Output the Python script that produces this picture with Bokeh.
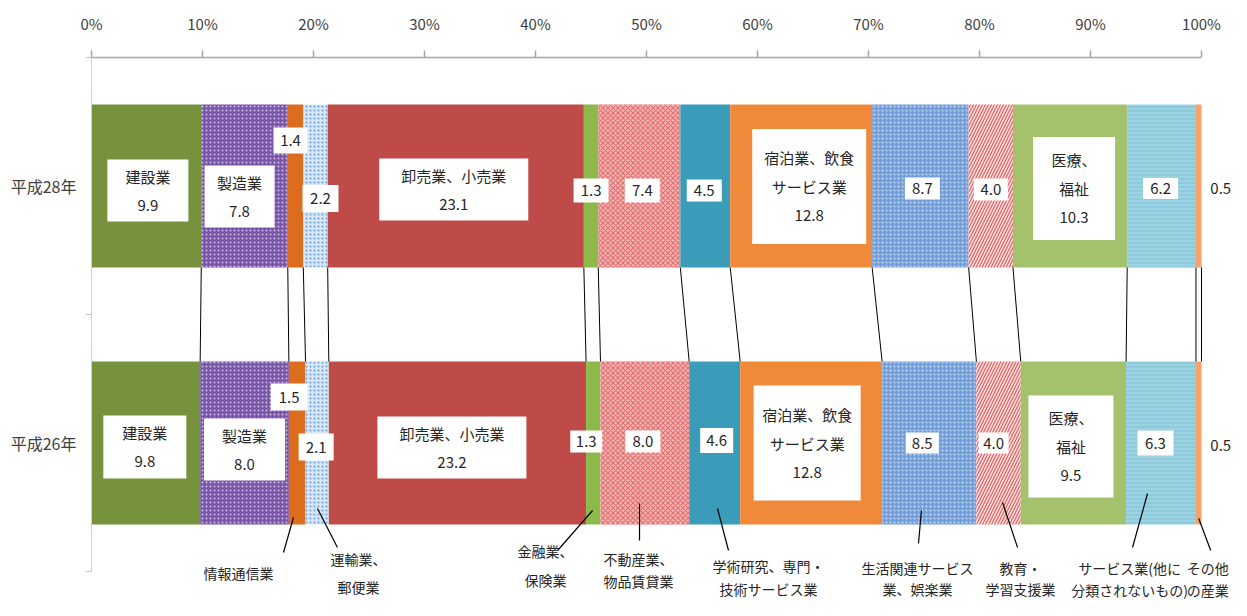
from bokeh.plotting import figure
from bokeh.models import (ColumnDataSource, Range1d, FixedTicker, PrintfTickFormatter,
                          CustomJSTickFormatter)
from bokeh.embed import file_html
from bokeh.resources import INLINE

# ---------------- data ----------------
industries = ["建設業", "製造業", "情報通信業", "運輸業、郵便業", "卸売業、小売業",
              "金融業、保険業", "不動産業、物品賃貸業", "学術研究、専門・技術サービス業",
              "宿泊業、飲食サービス業", "生活関連サービス業、娯楽業", "教育、学習支援業",
              "医療、福祉", "サービス業（他に分類されないもの）", "その他の産業"]
years = ["平成28年", "平成26年"]
h28 = [9.9, 7.8, 1.4, 2.2, 23.1, 1.3, 7.4, 4.5, 12.8, 8.7, 4.0, 10.3, 6.2, 0.5]
h26 = [9.8, 8.0, 1.5, 2.1, 23.2, 1.3, 8.0, 4.6, 12.8, 8.5, 4.0, 9.5, 6.3, 0.5]
inbox_names = ["建設業", "製造業", "", "", "卸売業、小売業", "", "", "",
               "宿泊業、飲食\nサービス業", "", "", "医療、\n福祉", "", ""]
below_names = ["", "", "情報通信業", "運輸業、\n郵便業", "", "金融業、\n保険業",
               "不動産業、\n物品賃貸業", "学術研究、専門・\n技術サービス業", "",
               "生活関連サービス\n業、娯楽業", "教育・\n学習支援業", "",
               "サービス業(他に\n分類されないもの)", "その他\nの産業"]
x_ticks = list(range(0, 101, 10))

# ---------------- styles ----------------
fills = ["#77923C", "#7A56A8", "#DC6D1E", "#D6E6F6", "#BE4B48", "#8DB84A", "#F3B4B3",
         "#3B9CBA", "#F08A3A", "#739FDA", "#FADCDC", "#A4C26C", "#9DD2E2", "#F7A26A"]
hatches = [" ", ".", " ", ".", " ", " ", "x", " ", " ", ".", "/", " ", "-", " "]
hatch_cols = ["white", "#CDBDE6", "white", "#6E9FD6", "white", "white", "#E27070",
              "white", "white", "#C9DAF3", "#E05A5A", "white", "#80C2D6", "white"]
hatch_scales = [6, 4, 6, 4, 6, 6, 5, 6, 6, 4, 6, 6, 4, 6]

PX_X = 11.1    # px per percent
PX_Y = 257.0   # px per y unit
bar_y = [1.5, 0.5]
bar_h = 0.634

# label box layout (dx px, dy px, w px, h px) relative to segment centre; None -> no box
boxes28 = [(1.5, 4.5, 81, 62), (-5, 10.5, 70, 62), (-5, -45.5, 34, 26), (5, 12.5, 36, 27),
           (-2, 3.5, 149, 62), (0, 4.5, 35, 24), (3, 4.5, 35, 24), (-1, 4.5, 35, 22),
           (8, 0.5, 114, 115), (2, 2.5, 35, 22), (0, 3.5, 34, 22), (4, 2.5, 82, 103),
           (-1, 2.5, 35, 21), None]
boxes26 = [(-1, 4, 83, 63), (0, 6.5, 81, 62), (-8, -46, 37, 27), (-1, 4, 35, 27),
           (-5.5, 4.5, 149, 62), (-7, -1.5, 32, 22), (-2, -1.5, 35, 22), (2, -2.5, 33, 25),
           (-4, 0, 107, 115), (-7, 0, 33, 21), (-5, 0, 30, 21), (-2.5, 3.5, 85, 102),
           (-5.5, 0, 36, 25), None]
outside_dx = 22  # px for the tiny last segment label
line_gap = 29    # px between lines inside boxes

# leaders for 平成26年: idx -> (start dx,dy), (end dx,dy), (text dx, first line dy, line gap)  [px]
leaders = {2: ((-3.7, 74.5), (-13.7, 109.5), (-58.7, 129.5, 0)),
           3: ((0.3, 65.5), (20.3, 104.5), (41.3, 115.5, 28)),
           5: ((-0.7, 67.5), (-35.7, 107.5), (-47.7, 107.5, 29)),
           6: ((-5.3, 60.5), (-5.3, 97.5), (-6.3, 115.5, 22)),
           7: ((2.8, 65.5), (13.8, 107.5), (53.8, 122.5, 23)),
           9: ((-7.8, 67.5), (-10.8, 100.5), (-11.8, 124.5, 21)),
           10: ((4, 59.5), (19, 104.5), (22, 124.5, 21)),
           12: ((-13.5, 50.5), (-28.5, 104.5), (-31.5, 124.5, 22)),
           13: ((0, 75.5), (12, 107.5), (9, 124.5, 22))}

FONT = "Noto Sans CJK JP"
W, H = 1236, 600
LEFT, TOP = 91, 57


def norm_cum(vals):
    tot = sum(vals)
    pct = [v / tot * 100 for v in vals]
    lefts, rights = [], []
    c = 0.0
    for v in pct:
        lefts.append(c)
        c += v
        rights.append(c)
    return lefts, rights


x_end = (W - LEFT) / PX_X
y_start = 2 - (H - TOP) / PX_Y
p = figure(width=W, height=H, output_backend="svg", toolbar_location=None,
           x_range=Range1d(0, x_end), y_range=Range1d(y_start, 2), x_axis_location="above",
           min_border_left=LEFT, min_border_right=0, min_border_top=TOP, min_border_bottom=0)
p.outline_line_color = None
p.grid.visible = False
p.background_fill_color = "white"

all_series = [h28, h26]
all_boxes = [boxes28, boxes26]
cums = [norm_cum(s) for s in all_series]

for k, vals in enumerate(all_series):
    lefts, rights = cums[k]
    src = ColumnDataSource(dict(y=[bar_y[k]] * len(vals), left=lefts, right=rights,
                                fill=fills, hp=hatches, hc=hatch_cols, hs=hatch_scales))
    p.hbar(y="y", left="left", right="right", height=bar_h, source=src,
           fill_color="fill", line_color=None, hatch_pattern="hp", hatch_color="hc",
           hatch_scale="hs", hatch_weight=1.1)

# series (connector) lines
l28, r28 = cums[0]
l26, r26 = cums[1]
p.segment(x0=r28, y0=[bar_y[0] - bar_h / 2] * len(r28), x1=r26,
          y1=[bar_y[1] + bar_h / 2] * len(r26), line_color="black", line_width=1)

# label boxes and texts
bx, by, bw, bh = [], [], [], []
tx, ty, tt = [], [], []
for k, vals in enumerate(all_series):
    lefts, rights = cums[k]
    for i, v in enumerate(vals):
        cx = (lefts[i] + rights[i]) / 2
        lines = (inbox_names[i].split("\n") if inbox_names[i] else []) + [f"{v:.1f}"]
        b = all_boxes[k][i]
        if b is None:
            x = cx + outside_dx / PX_X
            ypx = 2.5
        else:
            x = cx + b[0] / PX_X
            ypx = b[1]
            bx.append(x); by.append(bar_y[k] - b[1] / PX_Y); bw.append(b[2]); bh.append(b[3])
        n = len(lines)
        for j, ln in enumerate(lines):
            off = (j - (n - 1) / 2) * line_gap
            tx.append(x); ty.append(bar_y[k] - (ypx + off) / PX_Y); tt.append(ln)

p.rect(x=bx, y=by, width=bw, height=bh, width_units="screen", height_units="screen",
       fill_color="white", line_color=None)
p.text(x=tx, y=ty, text=tt, text_align="center", text_baseline="middle",
       text_font={"value": FONT}, text_font_size="15px", text_color="#262626")

# leaders and category names below
lx0, ly0, lx1, ly1, nx, ny, nt = [], [], [], [], [], [], []
for i, (s, e, t) in leaders.items():
    cx = (l26[i] + r26[i]) / 2
    lx0.append(cx + s[0] / PX_X); ly0.append(bar_y[1] - s[1] / PX_Y)
    lx1.append(cx + e[0] / PX_X); ly1.append(bar_y[1] - e[1] / PX_Y)
    for j, ln in enumerate(below_names[i].split("\n")):
        nx.append(cx + t[0] / PX_X)
        ny.append(bar_y[1] - (t[1] + j * t[2]) / PX_Y)
        nt.append(ln)
p.segment(x0=lx0, y0=ly0, x1=lx1, y1=ly1, line_color="black", line_width=1.2)
p.text(x=nx, y=ny, text=nt, text_align="center", text_baseline="middle",
       text_font={"value": FONT}, text_font_size="14px", text_color="#262626")

# axes
xa = p.xaxis[0]
xa.bounds = (0, 100)
xa.ticker = FixedTicker(ticks=x_ticks)
xa.formatter = PrintfTickFormatter(format="%d%%")
xa.axis_line_color = "#A6A6A6"
xa.axis_line_width = 1.5
xa.major_tick_line_color = "#A6A6A6"
xa.major_tick_line_width = 1.5
xa.major_tick_out = 7
xa.major_tick_in = 0
xa.minor_tick_line_color = None
xa.major_label_standoff = 17
xa.major_label_text_font = FONT
xa.major_label_text_font_size = "15px"
xa.major_label_text_color = "#404040"

ya = p.yaxis[0]
ya.bounds = (0, 2)
ya.ticker = FixedTicker(ticks=bar_y, minor_ticks=[0, 1, 2])
ya.formatter = CustomJSTickFormatter(args=dict(labels=years, ys=bar_y), code="""
    for (let i = 0; i < ys.length; i++) { if (Math.abs(ys[i] - tick) < 1e-6) return labels[i]; }
    return "";
""")
ya.axis_line_color = "#D0D0D0"
ya.major_tick_line_color = None
ya.minor_tick_line_color = "#BFBFBF"
ya.minor_tick_out = 5
ya.minor_tick_in = 0
ya.major_label_standoff = 9
ya.major_label_text_font = FONT
ya.major_label_text_font_size = "16px"
ya.major_label_text_color = "#404040"

open("out.html", "w").write(file_html(p, INLINE))
